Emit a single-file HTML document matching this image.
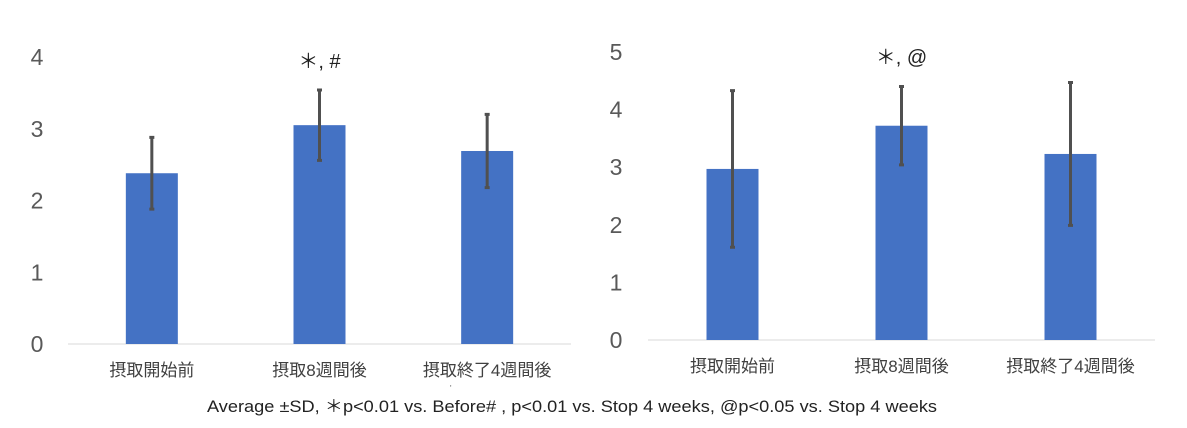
<!DOCTYPE html>
<html><head><meta charset="utf-8"><style>
body{margin:0;background:#fff}
svg{display:block}
text{font-family:"Liberation Sans","Noto Sans CJK JP",sans-serif}
</style></head><body>
<svg id="c" width="1187" height="428" viewBox="0 0 1187 428" xmlns="http://www.w3.org/2000/svg">
<text x="572" y="412" text-anchor="middle" font-size="17" fill="#222" textLength="730" lengthAdjust="spacingAndGlyphs">Average ±SD, ＊p&lt;0.01 vs. Before# , p&lt;0.01 vs. Stop 4 weeks, @p&lt;0.05 vs. Stop 4 weeks</text>
<text x="450" y="391" font-size="8" fill="#555">'</text>
</svg>
<script>
const categories = ["摂取開始前","摂取8週間後","摂取終了4週間後"];
const leftValues = [2.38, 3.05, 2.69];
const leftSD = [0.50, 0.49, 0.51];
const leftTicks = [0,1,2,3,4];
const leftAnnot = ["", "＊, #", ""];
const rightValues = [2.97, 3.72, 3.23];
const rightSD = [1.36, 0.68, 1.24];
const rightTicks = [0,1,2,3,4,5];
const rightAnnot = ["", "＊, @", ""];

const svg = document.getElementById('c');
const NS = "http://www.w3.org/2000/svg";
function mk(tag, attrs){const e=document.createElementNS(NS,tag);for(const k in attrs)e.setAttribute(k,attrs[k]);svg.appendChild(e);return e;}

function drawChart(p, values, sd, ticks, annot){
  const yMax = ticks[ticks.length-1];
  const y = v => p.y0 - (p.y0 - p.yTop) * v / yMax;
  const band = (p.x1 - p.x0) / categories.length;
  const xc = i => p.x0 + band * (i + 0.5);
  ticks.forEach(t=>{
    const tl = mk('text',{x:p.tickX,y:y(t)+8,'text-anchor':'middle','font-size':23,fill:'#595959'});
    
    
    tl.textContent = t;
  });
  const ax = mk('line',{x1:p.x0,x2:p.x1,y1:p.y0,y2:p.y0,stroke:'#d9d9d9','stroke-width':1});
  
  
  values.forEach((v,i)=>{
    const r = mk('rect',{x:xc(i)-p.bw/2,y:y(v),width:p.bw,height:p.y0-y(v),fill:'#4472c4'});
    
    
    const hi=y(v+sd[i]), lo=y(v-sd[i]);
    const e = mk('path',{d:`M${xc(i)},${hi}V${lo}M${xc(i)-2.5},${hi}H${xc(i)+2.5}M${xc(i)-2.5},${lo}H${xc(i)+2.5}`,stroke:'#505050','stroke-width':3,fill:'none'});
    
    
    const c = mk('text',{x:xc(i),y:p.y0+32,'text-anchor':'middle','font-size':17,fill:'#404040'});
    
    
    c.textContent = categories[i];
    if(annot[i]){
      const a = mk('text',{x:xc(i),y:p.annY,'text-anchor':'middle','font-size':20,fill:'#222'});
      
      
      a.textContent = annot[i];
    }
  });
}
drawChart({id:'left',x0:68,x1:571,y0:344,yTop:57,tickX:37,bw:52,annY:68}, leftValues, leftSD, leftTicks, leftAnnot);
drawChart({id:'right',x0:648,x1:1155,y0:340,yTop:52,tickX:616,bw:52,annY:64}, rightValues, rightSD, rightTicks, rightAnnot);
</script>
</body></html>
